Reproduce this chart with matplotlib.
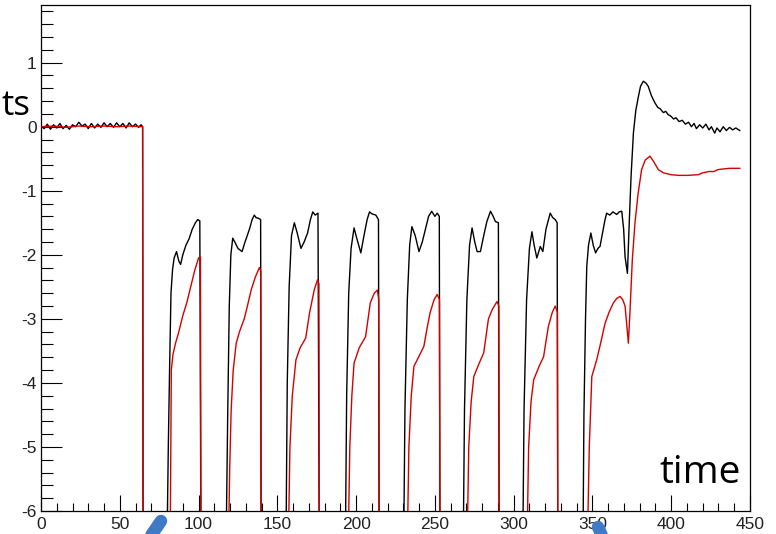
import matplotlib
matplotlib.use("Agg")
import matplotlib.pyplot as plt
from matplotlib.ticker import MultipleLocator
from matplotlib.lines import Line2D

# ---------------- data ----------------
black_base_x = [0, 2, 4, 6, 8, 10, 12, 14, 16, 18, 20, 22, 24, 26, 28, 30, 32,
                34, 36, 38, 40, 42, 44, 46, 48, 50, 52, 54, 56, 58, 60, 62, 63.5]
black_base_y = [0.01, -0.03, 0.04, -0.04, 0.03, -0.02, 0.05, -0.03, 0.02, -0.04,
                0.03, 0.0, 0.07, 0.01, 0.04, -0.03, 0.05, -0.02, 0.04, -0.01,
                0.06, 0.0, 0.05, -0.01, 0.06, 0.0, 0.05, -0.02, 0.06, 0.0,
                0.04, -0.01, 0.03]

black_x = black_base_x + [
    64.5, 64.8,
    80.0, 80.8, 81.6, 82.5, 83.5, 84.5, 86.0, 87.5, 88.6, 90.0, 92.0, 94.0, 96.0, 98.0, 99.5, 100.8, 101.5,
    117.5, 118.5, 119.5, 120.5, 121.7, 123.0, 125.0, 127.6, 129.5, 132.3, 134.0, 135.4, 136.5, 138.0, 139.4, 139.7,
    155.5, 156.3, 157.5, 159.0, 160.8, 162.5, 165.0, 167.0, 169.2, 171.0, 172.5, 174.0, 175.8, 176.6,
    193.2, 194.0, 195.3, 196.8, 198.7, 200.5, 203.0, 205.0, 207.0, 208.5, 210.0, 212.5, 214.2, 214.6,
    230.2, 231.0, 232.5, 234.0, 235.4, 237.5, 239.9, 242.0, 244.0, 246.0, 248.0, 250.0, 251.5, 252.8, 253.2,
    268.0, 268.8, 270.3, 272.0, 273.6, 275.3, 276.8, 278.9, 281.0, 283.0, 285.3, 287.0, 288.4, 290.3, 290.8,
    305.8, 306.6, 308.2, 310.0, 311.6, 313.0, 314.7, 316.9, 318.5, 320.5, 323.2, 324.8, 326.4, 327.6, 328.0,
    344.0, 344.6, 345.6, 346.4, 347.5, 349.0, 350.5, 352.0, 353.5, 354.8, 356.5, 358.0, 359.0, 361.0, 363.0,
    365.4, 367.0, 368.6, 369.8, 370.7, 372.2, 373.2, 374.5, 376.0, 377.5, 379.0, 380.5, 382.3, 384.0, 385.4,
    387.5, 389.7, 391.5, 393.0, 395.0, 396.5, 398.0, 400.0, 401.5, 403.0, 405.0, 407.0, 409.0, 411.0, 412.8,
    414.5, 416.0, 418.0, 420.0, 422.0, 424.0, 425.5, 427.6, 429.0, 431.0, 433.0, 435.0, 437.0, 439.0, 441.0, 443.5]
black_y = black_base_y + [
    0.0, -6.5,
    -6.5, -5.0, -3.8, -2.6, -2.23, -2.05, -1.95, -2.1, -2.15, -2.0, -1.85, -1.75, -1.6, -1.5, -1.45, -1.47, -6.5,
    -6.5, -4.5, -2.8, -2.0, -1.74, -1.8, -1.9, -1.95, -1.8, -1.6, -1.45, -1.38, -1.42, -1.43, -1.45, -6.5,
    -6.5, -4.0, -2.5, -1.7, -1.5, -1.65, -1.9, -1.8, -1.66, -1.45, -1.33, -1.38, -1.35, -6.5,
    -6.5, -4.2, -2.6, -1.9, -1.58, -1.75, -1.97, -1.7, -1.45, -1.33, -1.36, -1.38, -1.45, -6.5,
    -6.5, -4.4, -2.7, -1.85, -1.56, -1.7, -1.95, -1.8, -1.6, -1.4, -1.32, -1.4, -1.35, -1.4, -6.5,
    -6.5, -4.4, -2.7, -1.85, -1.58, -1.8, -1.95, -1.95, -1.7, -1.48, -1.32, -1.4, -1.48, -1.5, -6.5,
    -6.5, -4.4, -2.7, -1.9, -1.64, -1.85, -2.05, -1.87, -1.95, -1.6, -1.35, -1.42, -1.45, -1.5, -6.5,
    -6.5, -4.5, -3.0, -2.18, -1.85, -1.66, -1.85, -1.97, -1.9, -1.87, -1.65, -1.45, -1.35, -1.38, -1.33,
    -1.37, -1.33, -1.32, -1.6, -2.03, -2.29, -1.6, -0.78, -0.1, 0.25, 0.45, 0.63, 0.71, 0.68, 0.63,
    0.48, 0.37, 0.3, 0.28, 0.22, 0.24, 0.19, 0.16, 0.12, 0.14, 0.08, 0.1, 0.04, 0.07, 0.0,
    0.05, -0.03, 0.03, -0.02, 0.04, -0.05, 0.0, -0.1, -0.02, -0.08, 0.0, -0.06, -0.01, -0.05, -0.02, -0.06]

red_x = [
    0, 8, 16, 24, 32, 40, 48, 56, 64.5, 64.8,
    82.0, 82.4, 82.7, 83.8, 85.4, 87.5, 90.0, 92.5, 95.0, 97.5, 100.0, 101.2, 101.5,
    119.0, 119.8, 120.7, 122.0, 123.9, 126.0, 129.0, 131.0, 133.4, 136.0, 138.6, 139.5, 139.7,
    157.0, 158.0, 159.5, 161.8, 164.5, 168.0, 170.5, 173.4, 175.5, 176.4, 176.6,
    195.0, 196.0, 197.3, 198.7, 202.0, 206.0, 209.0, 211.5, 213.5, 214.4, 214.6,
    232.5, 233.5, 235.0, 236.7, 240.0, 243.0, 245.0, 247.0, 249.5, 251.5, 252.9, 253.2,
    270.5, 271.5, 273.0, 274.7, 278.0, 281.0, 284.0, 286.5, 289.4, 290.6, 290.8,
    308.5, 309.5, 311.0, 312.7, 316.0, 319.0, 322.0, 324.5, 326.4, 327.8, 328.0,
    346.8, 348.0, 349.6, 352.7, 355.0, 358.0, 360.5, 363.3, 365.5, 367.5, 369.2, 370.7, 371.8, 372.8,
    373.8, 375.3, 377.0, 379.0, 381.2, 383.5, 386.5, 389.0, 391.8, 395.0, 400.0, 405.0, 410.0, 417.0,
    420.0, 424.0, 427.0, 429.7, 433.0, 437.0, 443.5]
red_y = [
    0.0, 0.01, -0.01, 0.01, 0.0, 0.01, 0.0, 0.01, 0.0, -6.5,
    -6.5, -5.0, -3.8, -3.55, -3.38, -3.2, -2.95, -2.75, -2.5, -2.25, -2.05, -2.03, -6.5,
    -6.5, -5.3, -4.42, -3.8, -3.38, -3.2, -3.0, -2.8, -2.55, -2.35, -2.2, -2.25, -6.5,
    -6.5, -5.0, -4.2, -3.64, -3.45, -3.3, -2.9, -2.55, -2.39, -2.45, -6.5,
    -6.5, -5.0, -4.2, -3.69, -3.45, -3.28, -2.75, -2.6, -2.55, -2.7, -6.5,
    -6.5, -5.0, -4.2, -3.74, -3.58, -3.43, -3.15, -2.9, -2.7, -2.62, -2.7, -6.5,
    -6.5, -5.0, -4.3, -3.9, -3.7, -3.53, -3.0, -2.85, -2.73, -2.8, -6.5,
    -6.5, -5.0, -4.3, -3.95, -3.75, -3.59, -3.12, -2.9, -2.8, -2.9, -6.5,
    -6.5, -5.0, -3.9, -3.64, -3.4, -3.07, -2.9, -2.75, -2.68, -2.65, -2.7, -2.8, -3.1, -3.38,
    -2.9, -2.08, -1.5, -1.04, -0.67, -0.52, -0.46, -0.55, -0.67, -0.72, -0.75, -0.76, -0.76, -0.75,
    -0.72, -0.7, -0.7, -0.67, -0.66, -0.65, -0.65]

x_ticks = [0, 50, 100, 150, 200, 250, 300, 350, 400, 450]
y_ticks = [-6, -5, -4, -3, -2, -1, 0, 1]

# ---------------- figure ----------------
W, H = 776, 534
fig = plt.figure(figsize=(W / 100, H / 100), dpi=100)
ax = fig.add_axes([41 / W, 1 - 511 / H, (750 - 41) / W, (511 - 5) / H])

ax.plot(black_x, black_y, color="black", lw=1.0, zorder=2)
ax.plot(red_x, red_y, color="#d40000", lw=1.0, zorder=3)

ax.set_xlim(0, 450)
ax.set_ylim(-6, 1.9)
ax.set_xticks(x_ticks)
ax.set_yticks(y_ticks)
ax.xaxis.set_minor_locator(MultipleLocator(10))
ax.yaxis.set_minor_locator(MultipleLocator(0.2))

lab_font = {"family": ["Liberation Sans", "DejaVu Sans"], "size": 12.5}
ax.set_xticklabels([str(v) for v in x_ticks], **lab_font, color="#222222")
ax.set_yticklabels([str(v) for v in y_ticks], **lab_font, color="#222222")

ax.tick_params(axis="x", which="major", direction="in", length=11.5, width=0.8, pad=4,
               top=False, bottom=True)
ax.tick_params(axis="x", which="minor", direction="in", length=5.8, width=0.8,
               top=False, bottom=True)
ax.tick_params(axis="y", which="major", direction="in", length=15, width=0.8, pad=3,
               right=False, left=True)
ax.tick_params(axis="y", which="minor", direction="in", length=8.5, width=0.8,
               right=False, left=True)
for s in ax.spines.values():
    s.set_linewidth(0.9)
    s.set_color("black")

# slide annotations (the word at the left is cut by the slide edge: only "ts" shows)
big = {"family": ["Open Sans", "DejaVu Sans"], "size": 28}
fig.text(1 / W, 1 - 115 / H, "ts", ha="left", va="baseline",
         family=["Open Sans", "DejaVu Sans"], size=25)
fig.text(741 / W, 1 - 483 / H, "time", ha="right", va="baseline", **big)

blue = "#3f7ac6"
fig.add_artist(Line2D([148 / W, 161 / W], [1 - 540 / H, 1 - 521 / H], color=blue, lw=9,
                      solid_capstyle="round", transform=fig.transFigure))
fig.add_artist(Line2D([604 / W, 598 / W], [1 - 540 / H, 1 - 527 / H], color=blue, lw=9,
                      solid_capstyle="round", transform=fig.transFigure))

fig.savefig("out.png", dpi=100)
